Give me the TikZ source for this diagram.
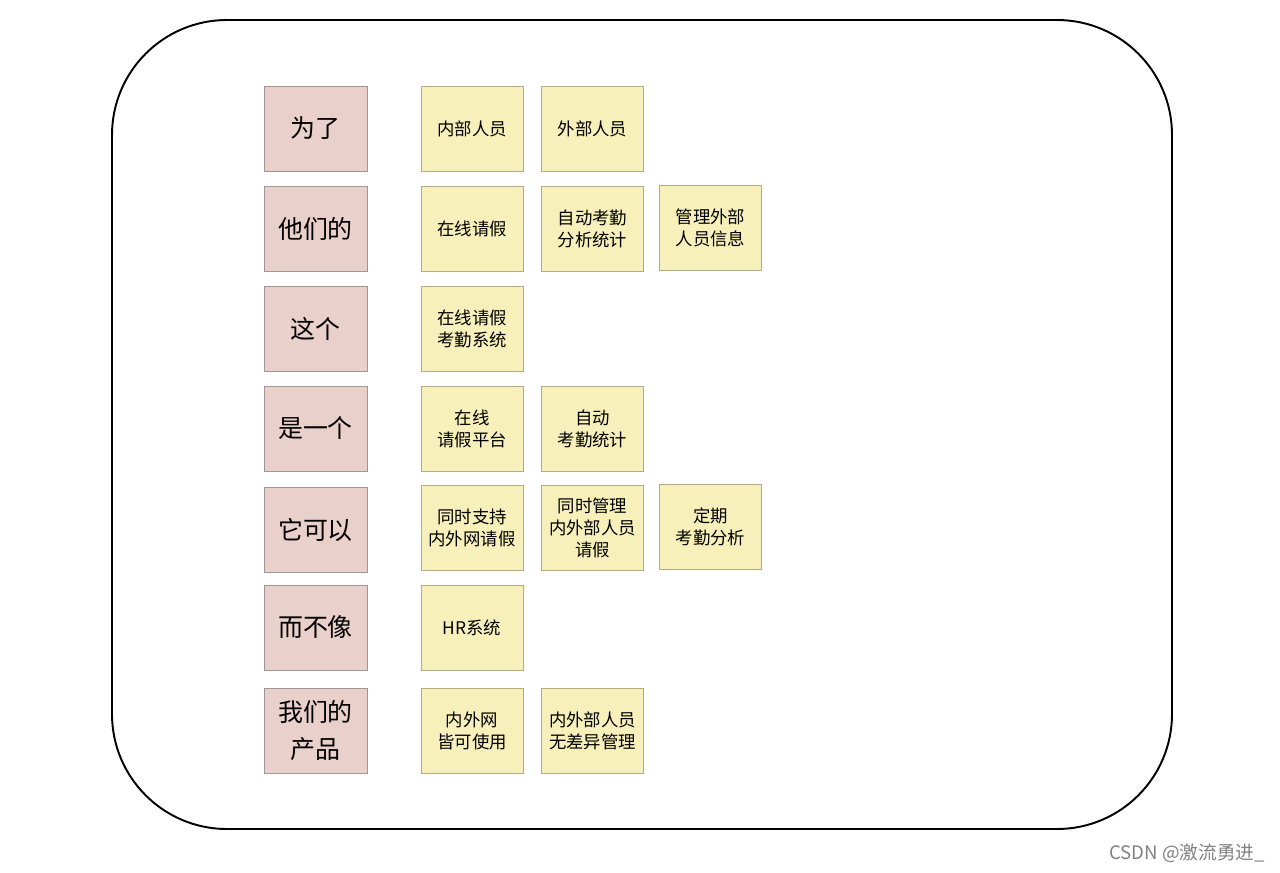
\documentclass[tikz,border=0pt]{standalone}
\usepackage{fontspec}
\newfontfamily\cjk{Noto Sans CJK SC}
\usepackage{tikz}
\usetikzlibrary{positioning}
\definecolor{pinkfill}{RGB}{233,208,203}
\definecolor{pinkline}{RGB}{160,150,148}
\definecolor{notefill}{RGB}{248,240,186}
\definecolor{noteline}{RGB}{180,172,130}

\begin{document}
\begin{tikzpicture}[x=0.02cm, y=-0.02cm,
  pinkbox/.style={draw=pinkline, fill=pinkfill, minimum width=2.06cm, minimum height=1.7cm, align=center, font=\cjk\fontsize{14.2}{21}\selectfont},
  notebox/.style={draw=noteline, fill=notefill, minimum width=2.04cm, minimum height=1.7cm, align=center, font=\cjk\fontsize{9.9}{12.5}\selectfont}]
  \useasboundingbox (0,0) rectangle (1280,872);
  \draw[line width=1.1pt, rounded corners=2.3cm] (112,20) rectangle (1172,829);

  \node[pinkbox] (wei) at (315.5,128.5) {为了};
  \node[pinkbox] (tamen) at (315.5,228.5) {他们的};
  \node[pinkbox] (zhege) at (315.5,328.5) {这个};
  \node[pinkbox] (shi) at (315.5,428.5) {是一个};
  \node[pinkbox] (keyi) at (315.5,530) {它可以};
  \node[pinkbox] (buxiang) at (315.5,627.5) {而不像};
  \node[pinkbox] (chanpin) at (315.5,730.5) {我们的\\产品};

  \node[notebox] (neibu) at (472,128.5) {内部人员};
  \node[notebox] (waibu) at (592.5,128.5) {外部人员};

  \node[notebox] (qingjia) at (472,228.5) {在线请假};
  \node[notebox] (tongji) at (592.5,228.5) {自动考勤\\分析统计};
  \node[notebox] (xinxi) at (710.5,227.5) {管理外部\\人员信息};

  \node[notebox] (xitong) at (472,328.5) {在线请假\\考勤系统};

  \node[notebox] (pingtai) at (472,428.5) {在线\\请假平台};
  \node[notebox] (kaoqin) at (592.5,428.5) {自动\\考勤统计};

  \node[notebox] (zhichi) at (472,527.5) {同时支持\\内外网请假};
  \node[notebox] (guanli) at (592.5,527.5) {同时管理\\内外部人员\\请假};
  \node[notebox] (dingqi) at (710.5,526.5) {定期\\考勤分析};

  \node[notebox] (hr) at (472,627.5) {HR系统};

  \node[notebox] (shiyong) at (472,730.5) {内外网\\皆可使用};
  \node[notebox] (chayi) at (592.5,730.5) {内外部人员\\无差异管理};

  \node[text=gray, font=\cjk\fontsize{10.6}{12}\selectfont, anchor=east, inner sep=0pt] (mark) at (1265,853) {CSDN @激流勇进\_};
\end{tikzpicture}
\end{document}
